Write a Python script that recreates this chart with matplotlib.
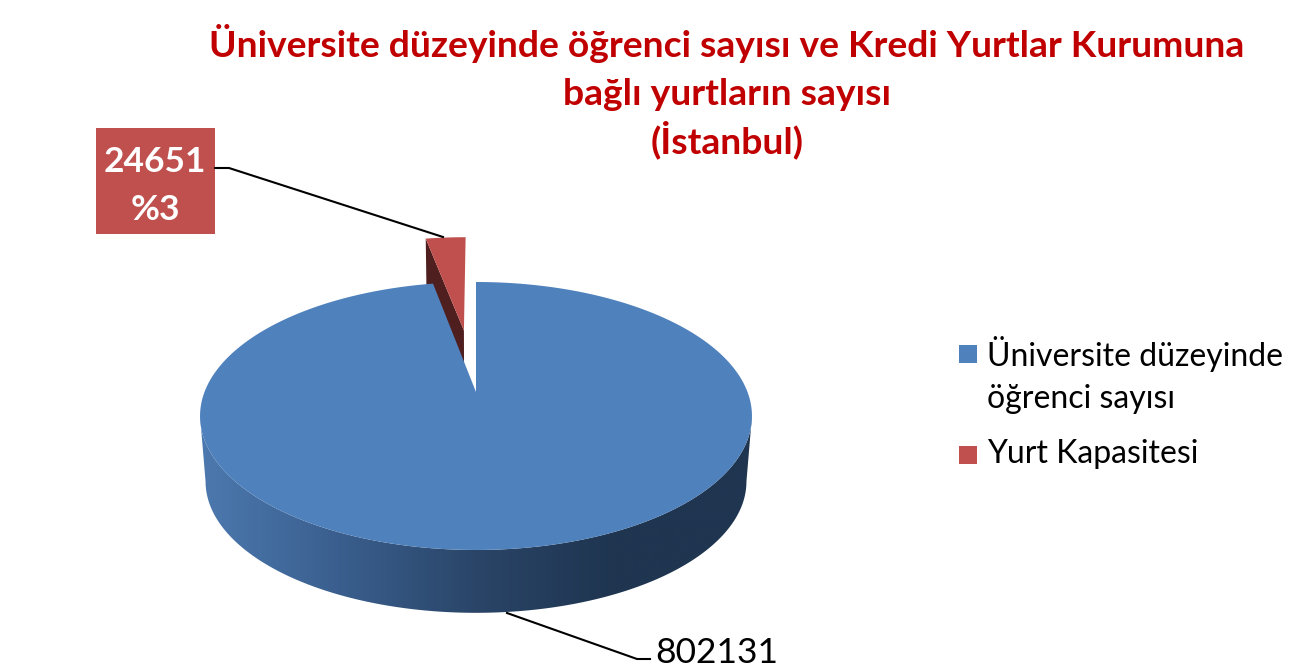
import numpy as np
import matplotlib
matplotlib.use('Agg')
import matplotlib.pyplot as plt
from matplotlib.colors import LinearSegmentedColormap
from matplotlib.patches import Polygon, Rectangle

# Data
categories = ['Üniversite düzeyinde\nöğrenci sayısı', 'Yurt Kapasitesi']
values = [802131, 24651]
colors = ['#4F81BD', '#C0504D']
title_lines = ['Üniversite düzeyinde öğrenci sayısı ve Kredi Yurtlar Kurumuna',
               'bağlı yurtların sayısı',
               '(İstanbul)']

plt.rcParams['font.family'] = ['Lato', 'DejaVu Sans']

fig = plt.figure(figsize=(13.03, 6.68), dpi=100)
ax = fig.add_axes([0, 0, 1, 1])

# perspective of the pie, in pixels of the picture
cx = 476
k = 0.179
top_y = 392
bottom_y = 458
bottom_scale = 0.98
explode = 0.52


def project(theta, shift=(0, 0), lower=False):
    u = np.sin(np.radians(theta)) + shift[0]
    v = np.cos(np.radians(theta)) + shift[1]
    w = 1 + k * v
    s = bottom_scale if lower else 1
    y0 = bottom_y if lower else top_y
    return cx + 271.5 * s * u / w, y0 - 129.7 * s * v / w


def apex(shift=(0, 0), lower=False):
    w = 1 + k * shift[1]
    s = bottom_scale if lower else 1
    y0 = bottom_y if lower else top_y
    return cx + 271.5 * s * shift[0] / w, y0 - 129.7 * s * shift[1] / w


shares = np.array(values) / sum(values)
blue_end = 360 * shares[0]

# red slice, pulled out of the pie
mid = np.radians((blue_end + 360) / 2)
shift = (explode * np.sin(mid), explode * np.cos(mid))
t = np.linspace(blue_end, 360, 20)
x0, y0 = project(blue_end, shift)
x1, y1 = project(blue_end, shift, lower=True)
ax0, ay0 = apex(shift)
ax1, ay1 = apex(shift, lower=True)
ax.add_patch(Polygon([(x0, y0), (ax0, ay0), (ax1, ay1), (x1, y1)], color='#4F1F1F', lw=0))
xs, ys = project(t, shift)
ax.add_patch(Polygon(np.r_[[(ax0, ay0)], np.c_[xs, ys]], color=colors[1], lw=0))

# side of the blue slice
side = LinearSegmentedColormap.from_list('side', ['#4C79AF', '#3A5F8E', '#2A4568', '#1F3550', '#1F3550'])
front = np.linspace(100.3, 259.7, 200)
xb, yb = project(front, lower=True)
xt, yt = project(front[::-1])
band = Polygon(np.r_[np.c_[xb, yb], np.c_[xt, yt]], color='none', lw=0)
ax.add_patch(band)
im = ax.imshow(np.linspace(0, 1, 256)[None, :], cmap=side, aspect='auto', extent=(200, 752, 640, 400))
im.set_clip_path(band)

# top of the blue slice
t = np.linspace(0, blue_end, 400)
xs, ys = project(t)
ax.add_patch(Polygon(np.r_[[apex()], np.c_[xs, ys]], color=colors[0], lw=0))

# labels and leader lines
ax.plot([215, 229, 443], [168, 168, 237], color='black', lw=1.5)
ax.plot([507, 637, 650], [613, 659, 659], color='black', lw=1.5)
ax.add_patch(Rectangle((96, 128), 119, 106, color=colors[1], lw=0))
pct = [round(100 * s) for s in shares]
ax.text(155, 162, str(values[1]), color='white', fontsize=25.5, fontweight='bold', ha='center', va='center')
ax.text(155, 210, '%' + str(pct[1]), color='white', fontsize=25.5, fontweight='bold', ha='center', va='center')
ax.text(655, 663, str(values[0]), color='black', fontsize=25.5, ha='left', va='baseline')

# title
for line, base in zip(title_lines, [57, 105, 153]):
    ax.text(727, base, line, color='#C00000', fontsize=26.8, fontweight='bold', ha='center', va='baseline')

# legend
ax.add_patch(Rectangle((959, 345), 18, 18, color=colors[0], lw=0))
ax.text(987, 336, categories[0], color='black', fontsize=23, ha='left', va='top', linespacing=1.48)
ax.add_patch(Rectangle((959, 446), 18, 18, color=colors[1], lw=0))
ax.text(987, 463, categories[1], color='black', fontsize=23, ha='left', va='baseline')

ax.set_xlim(0, 1303)
ax.set_ylim(668, 0)
ax.axis('off')

fig.savefig('out.png', dpi=100)
